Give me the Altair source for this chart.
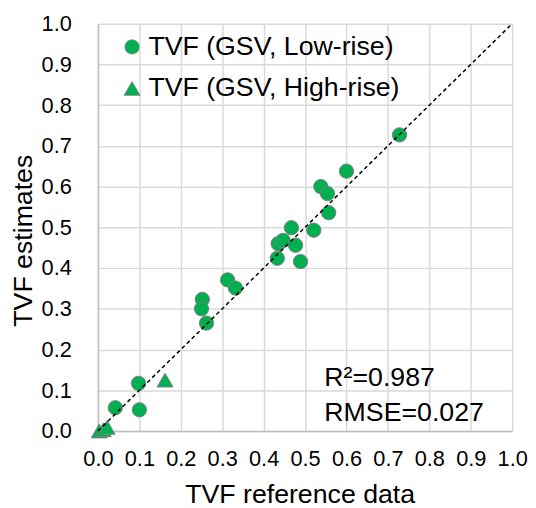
import altair as alt
import pandas as pd

# ---- data ----
low_x = [0.728, 0.600, 0.538, 0.554, 0.557, 0.521, 0.467, 0.435, 0.447, 0.477,
         0.433, 0.489, 0.313, 0.332, 0.252, 0.250, 0.262, 0.098, 0.042, 0.100]
low_y = [0.727, 0.638, 0.600, 0.583, 0.536, 0.493, 0.499, 0.460, 0.468, 0.456,
         0.424, 0.416, 0.371, 0.351, 0.323, 0.300, 0.265, 0.117, 0.057, 0.052]
high_x = [0.162, 0.003, 0.013, 0.022]
high_y = [0.125, 0.000, 0.003, 0.009]
series_names = ["TVF (GSV, Low-rise)", "TVF (GSV, High-rise)"]
tick_values = [0.0, 0.1, 0.2, 0.3, 0.4, 0.5, 0.6, 0.7, 0.8, 0.9, 1.0]
line_x = [0.0, 1.0]
line_y = [0.0, 1.0]
stats = ["R\u00b2=0.987", "RMSE=0.027"]

FONT = "Liberation Sans"
GREEN = "#00b050"

df = pd.DataFrame({
    "x": low_x + high_x,
    "y": low_y + high_y,
    "series": [series_names[0]] * len(low_x) + [series_names[1]] * len(high_x),
})
line_df = pd.DataFrame({"x": line_x, "y": line_y})

xscale = alt.Scale(domain=[0, 1], nice=False, zero=False)
yscale = alt.Scale(domain=[0, 1], nice=False, zero=False)

xaxis = alt.Axis(values=tick_values, format=".1f", title="TVF reference data",
                 labelPadding=18, labelOverlap=False, labelFlush=False,
                 titleX=204, titleY=72, titleBaseline="alphabetic", titleAlign="center")
yaxis = alt.Axis(values=tick_values, format=".1f", title="TVF estimates",
                 labelPadding=27, labelOverlap=False, labelFlush=False,
                 titleX=-67, titleY=219, titleAngle=270,
                 titleBaseline="alphabetic", titleAlign="center")

leg = alt.Legend(orient="none", legendX=21, legendY=10, title=None,
                 labelFont=FONT, labelFontSize=27, labelColor="black",
                 labelLimit=400, symbolSize=210, symbolStrokeColor="#7f7f7f",
                 symbolStrokeWidth=0.8, rowPadding=14, labelOffset=3, padding=0)

points = alt.Chart(df).mark_point(filled=True, opacity=1, stroke="#7f7f7f",
                                  strokeWidth=1).encode(
    x=alt.X("x:Q", scale=xscale, axis=xaxis),
    y=alt.Y("y:Q", scale=yscale, axis=yaxis),
    color=alt.Color("series:N", scale=alt.Scale(domain=series_names, range=[GREEN, GREEN]), legend=leg),
    shape=alt.Shape("series:N", scale=alt.Scale(domain=series_names, range=["circle", "triangle-up"]), legend=leg),
    size=alt.Size("series:N", scale=alt.Scale(domain=series_names, range=[210, 260]), legend=None),
)

line = alt.Chart(line_df).mark_line(color="black", strokeDash=[4, 3], strokeWidth=1.5).encode(
    x=alt.X("x:Q", scale=xscale),
    y=alt.Y("y:Q", scale=yscale),
)

txt1 = alt.Chart(pd.DataFrame({"t": [stats[0]]})).mark_text(
    align="left", baseline="alphabetic", font=FONT, fontSize=27, color="black"
).encode(text="t:N", x=alt.value(229), y=alt.value(366))
txt2 = alt.Chart(pd.DataFrame({"t": [stats[1]]})).mark_text(
    align="left", baseline="alphabetic", font=FONT, fontSize=27, color="black"
).encode(text="t:N", x=alt.value(229), y=alt.value(402))

chart = alt.layer(points, line, txt1, txt2).properties(
    width=419, height=412, autosize="none",
    padding={"left": 91, "top": 13, "right": 16, "bottom": 75},
).configure_axis(
    gridColor="#d9d9d9", gridWidth=1.5, domainColor="#bfbfbf", domainWidth=1.5,
    ticks=False, tickSize=0, labelFont=FONT, labelFontSize=22, labelColor="black",
    titleFont=FONT, titleFontSize=27, titleColor="black", titleFontWeight="normal",
).configure_view(stroke="transparent")

chart.save("out.html", embed_options={"renderer": "svg", "actions": False})
